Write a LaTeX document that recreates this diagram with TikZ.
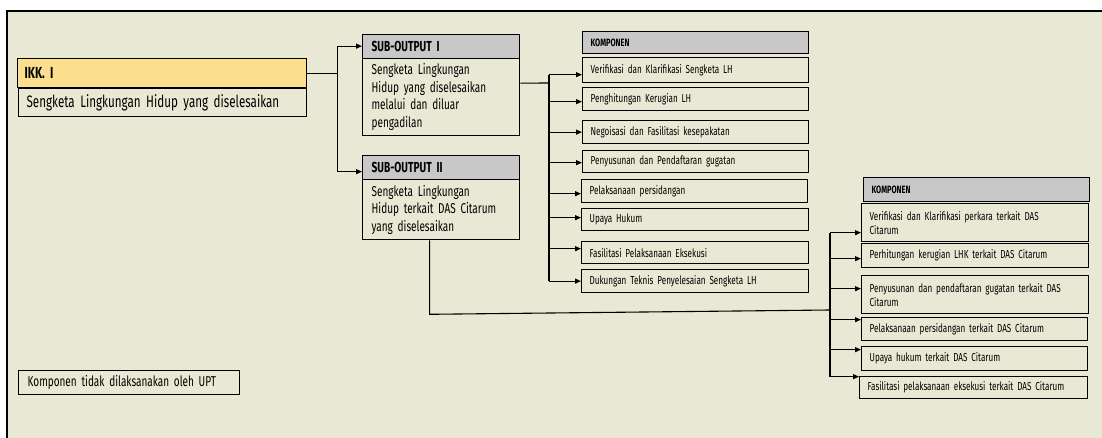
\documentclass[tikz,border=0pt]{standalone}
\usepackage{fontspec}
\setmainfont{Fira Sans}[FakeStretch=0.7]
\usetikzlibrary{arrows.meta,calc}
\definecolor{bg}{RGB}{233,232,213}
\definecolor{ikkfill}{RGB}{251,223,142}
\definecolor{hdrgray}{RGB}{200,200,200}
\begin{document}
\begin{tikzpicture}[x=1pt,y=-1pt,
  bx/.style={draw=black, line width=1.3pt, fill=bg, anchor=north west, inner xsep=8pt, inner ysep=0pt, align=left},
  hdr/.style={bx, fill=hdrgray},
  arr/.style={line width=1.1pt, -{Triangle[length=6pt,width=5pt]}},
  ln/.style={line width=1.1pt},
  cfont/.style={font=\fontsize{11.6}{14}\selectfont},
  bfont/.style={font=\fontsize{14.3}{17.5}\selectfont},
  hfont/.style={font=\bfseries\fontsize{14.5}{16}\selectfont},
  kfont/.style={font=\bfseries\fontsize{10.6}{11}\selectfont}]
\useasboundingbox (0,0) rectangle (1102,438);
\fill[white] (0,0) rectangle (1102,438);
\fill[bg] (7,11) rectangle (1102,438);
\draw[line width=1.5pt] (7,438) -- (7,11) -- (1102,11);

% IKK
\node[bx, fill=ikkfill, inner xsep=7pt, text width=275pt, minimum height=29pt, font=\bfseries\fontsize{16}{17}\selectfont] (ikk) at (17,58) {IKK. I};
\node[bx, inner xsep=8pt, text width=272pt, minimum height=28pt, font=\fontsize{16.6}{17}\selectfont] (ikks) at (18,88) {Sengketa Lingkungan Hidup yang diselesaikan};

% Sub-outputs
\node[hdr, inner xsep=9pt, text width=139pt, minimum height=24pt, hfont] (s1h) at (362,34) {SUB-OUTPUT I};
\node[bx, inner xsep=9pt, text width=139pt, minimum height=77pt, bfont] (s1b) at (362,58) {Sengketa Lingkungan\\Hidup yang diselesaikan\\melalui dan diluar\\pengadilan};
\node[hdr, inner xsep=9pt, text width=139pt, minimum height=24pt, hfont] (s2h) at (362,155) {SUB-OUTPUT II};
\node[bx, inner xsep=9pt, text width=139pt, minimum height=60pt, bfont] (s2b) at (362,179) {Sengketa Lingkungan\\Hidup terkait DAS Citarum\\yang diselesaikan};

% Komponen column 1
\node[hdr, text width=210pt, minimum height=22pt, kfont] (k1h) at (582,31) {KOMPONEN};
\node[bx, text width=210pt, minimum height=25pt, cfont] (c1) at (582,57) {Verifikasi dan Klarifikasi Sengketa LH};
\node[bx, text width=210pt, minimum height=23pt, cfont] (c2) at (582,87) {Penghitungan Kerugian LH};
\node[bx, text width=210pt, minimum height=23pt, cfont] (c3) at (582,120) {Negoisasi dan Fasilitasi kesepakatan};
\node[bx, text width=210pt, minimum height=22pt, cfont] (c4) at (582,150) {Penyusunan dan Pendaftaran gugatan};
\node[bx, text width=210pt, minimum height=23pt, cfont] (c5) at (581,179) {Pelaksanaan persidangan};
\node[bx, text width=211pt, minimum height=22pt, cfont] (c6) at (581,208) {Upaya Hukum};
\node[bx, text width=211pt, minimum height=22pt, cfont] (c7) at (581,241) {Fasilitasi Pelaksanaan Eksekusi};
\node[bx, text width=211pt, minimum height=23pt, cfont] (c8) at (581,269) {Dukungan Teknis Penyelesaian Sengketa LH};

% Komponen column 2
\node[hdr, text width=210pt, minimum height=24pt, kfont] (k2h) at (863,177) {KOMPONEN};
\node[bx, text width=211pt, minimum height=38pt, cfont] (d1) at (861,203) {Verifikasi dan Klarifikasi perkara terkait DAS\\Citarum};
\node[bx, text width=211pt, minimum height=24pt, cfont] (d2) at (861,243) {Perhitungan kerugian LHK terkait DAS Citarum};
\node[bx, text width=211pt, minimum height=38pt, cfont] (d3) at (861,275) {Penyusunan dan pendaftaran gugatan terkait DAS\\Citarum};
\node[bx, text width=210pt, minimum height=23pt, cfont] (d4) at (861,317) {Pelaksanaan persidangan terkait DAS Citarum};
\node[bx, text width=210pt, minimum height=24pt, cfont] (d5) at (861,346) {Upaya hukum terkait DAS Citarum};
\node[bx, text width=212pt, minimum height=22pt, cfont] (d6) at (859,376) {Fasilitasi pelaksanaan eksekusi terkait DAS Citarum};

% Legend
\node[bx, inner xsep=9pt, text width=203pt, minimum height=24pt, bfont] (leg) at (18,370) {Komponen tidak dilaksanakan oleh UPT};

% Connectors: IKK -> sub-outputs
\coordinate (j0) at ($(ikk.east)+(30,0)$);
\draw[ln] (ikk.east) -- (j0);
\draw[arr] (j0) |- ([yshift=0.5pt]s1h.west);
\draw[arr] (j0) |- ([yshift=-4pt]s2h.west);

% Sub-output I -> column 1
\coordinate (t1) at (549,83);
\draw[ln] ([yshift=14pt]s1b.east) -- (t1);
\coordinate (a1) at ([yshift=-4.5pt]c1.west);
\coordinate (a2) at ([yshift=-2.5pt]c2.west);
\coordinate (a3) at (c3.west);
\coordinate (a4) at ([yshift=-1pt]c4.west);
\coordinate (a5) at ([yshift=-2.5pt]c5.west);
\coordinate (a6) at ([yshift=2pt]c6.west);
\coordinate (a7) at ([yshift=4pt]c7.west);
\coordinate (a8) at (c8.west);
\draw[ln] (t1 |- a1) -- (t1 |- a8);
\foreach \a in {a1,a2,a3,a4,a5,a6,a7,a8} \draw[arr] (t1 |- \a) -- (\a);

% Sub-output II -> column 2
\coordinate (t2) at (830,310);
\coordinate (s2d) at ([xshift=-11.5pt]s2b.south);
\draw[ln] (s2d) -- ++(0,74) -- (t2);
\coordinate (b1) at ([yshift=-10pt]d1.west);
\coordinate (b2) at ([yshift=-3pt]d2.west);
\coordinate (b3) at ([yshift=6pt]d3.west);
\coordinate (b4) at ([yshift=9.5pt]d4.west);
\coordinate (b5) at ([yshift=9pt]d5.west);
\coordinate (b6) at ([yshift=11pt]d6.west);
\draw[ln] (t2 |- b1) -- (t2 |- b6);
\foreach \b in {b1,b2,b3,b4,b5,b6} \draw[arr] (t2 |- \b) -- (\b);
\end{tikzpicture}
\end{document}
